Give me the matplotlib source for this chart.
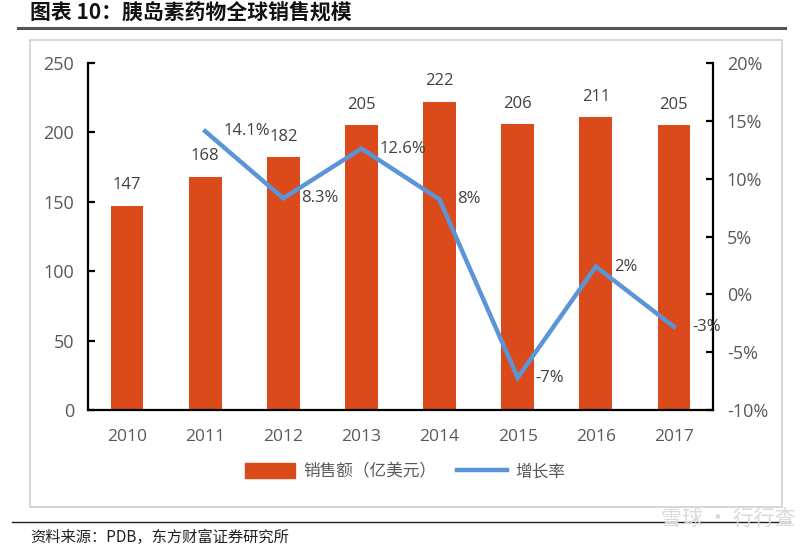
import matplotlib.pyplot as plt
from matplotlib.patches import Rectangle
from matplotlib.lines import Line2D
import numpy as np

plt.rcParams['font.family'] = ['Open Sans', 'Noto Sans CJK SC', 'DejaVu Sans']

years = ['2010', '2011', '2012', '2013', '2014', '2015', '2016', '2017']
sales = [147, 168, 182, 205, 222, 206, 211, 205]
growth_years = ['2011', '2012', '2013', '2014', '2015', '2016', '2017']
growth = [14.1, 8.3, 12.6, 8.2, -7.2, 2.4, -2.8]
growth_labels = ['14.1%', '8.3%', '12.6%', '8%', '-7%', '2%', '-3%']

bar_color = '#DB4A1B'
line_color = '#5B95D8'
text_gray = '#595959'
cjk = ['Noto Sans CJK SC', 'DejaVu Sans']

fig = plt.figure(figsize=(8, 5.46), dpi=100)

# frame and rules around the chart
fig.add_artist(Rectangle((30 / 800, 1 - 507 / 546), 752 / 800, 467 / 546,
                         transform=fig.transFigure, fill=False, ec='#D0D0D0', lw=1.2))
fig.add_artist(Line2D([18 / 800, 785 / 800], [1 - 28 / 546] * 2,
                      transform=fig.transFigure, color='#555555', lw=2.2))
fig.add_artist(Line2D([12 / 800, 790 / 800], [1 - 522 / 546] * 2,
                      transform=fig.transFigure, color='#222222', lw=1.0))

fig.text(30 / 800, 1 - 12 / 546, '图表 10：胰岛素药物全球销售规模', family=cjk,
         fontsize=15, fontweight='bold', va='center', ha='left', color='#111111')
fig.text(30 / 800, 1 - 537 / 546, '资料来源：PDB，东方财富证券研究所', family=cjk,
         fontsize=11, va='center', ha='left', color='#222222')
fig.text(728 / 800, 1 - 519 / 546, '雪球 · 行行查', family=cjk,
         fontsize=15, va='center', ha='center', color='#DADADA')

ax = fig.add_axes([88 / 800, 1 - 410 / 546, 625 / 800, 347 / 546])
x = np.arange(len(years))
ax.bar(x, sales, width=0.42, color=bar_color, zorder=2)
for xi, v in zip(x, sales):
    ax.annotate(str(v), (xi, v), xytext=(0, 9), textcoords='offset points',
                ha='center', va='bottom', fontsize=12, color='#404040')
ax.set_xlim(-0.5, len(years) - 0.5)
ax.set_ylim(0, 250)
ax.set_yticks(range(0, 251, 50))
ax.set_xticks(x)
ax.set_xticklabels(years)

ax2 = ax.twinx()
gx = [years.index(y) for y in growth_years]
ax2.plot(gx, growth, color=line_color, lw=3.2, zorder=3, solid_joinstyle='miter')
for xi, v, lab in zip(gx, growth, growth_labels):
    ax2.annotate(lab, (xi, v), xytext=(13, 0), textcoords='offset points',
                 ha='left', va='center', fontsize=12, color='#404040')
ax2.set_ylim(-10, 20)
ax2.set_yticks(range(-10, 21, 5))
ax2.set_yticklabels([f'{t}%' for t in range(-10, 21, 5)])

for a in (ax, ax2):
    for s in a.spines.values():
        s.set_visible(False)
ax.spines['left'].set_visible(True)
ax.spines['bottom'].set_visible(True)
ax2.spines['right'].set_visible(True)
for s in (ax.spines['left'], ax.spines['bottom'], ax2.spines['right']):
    s.set_linewidth(1.6)
    s.set_color('black')

ax.tick_params(axis='y', direction='in', length=5, width=1.6, labelsize=13,
               labelcolor=text_gray, pad=10)
ax.tick_params(axis='x', length=0, labelsize=12.5, labelcolor=text_gray, pad=14)
ax2.tick_params(axis='y', direction='in', length=5, width=1.6, labelsize=13,
                labelcolor=text_gray, pad=10)

handles = [Rectangle((0, 0), 1, 1, color=bar_color),
           Line2D([], [], color=line_color, lw=3.2)]
fig.legend(handles, ['销售额（亿美元）', '增长率'], loc='center',
           bbox_to_anchor=(405 / 800, 1 - 472 / 546), ncol=2, frameon=False,
           prop={'family': cjk, 'size': 12}, labelcolor=text_gray,
           handlelength=3.0, handleheight=1.0, columnspacing=1.2, handletextpad=0.5)

fig.savefig('out.png', dpi=100)
